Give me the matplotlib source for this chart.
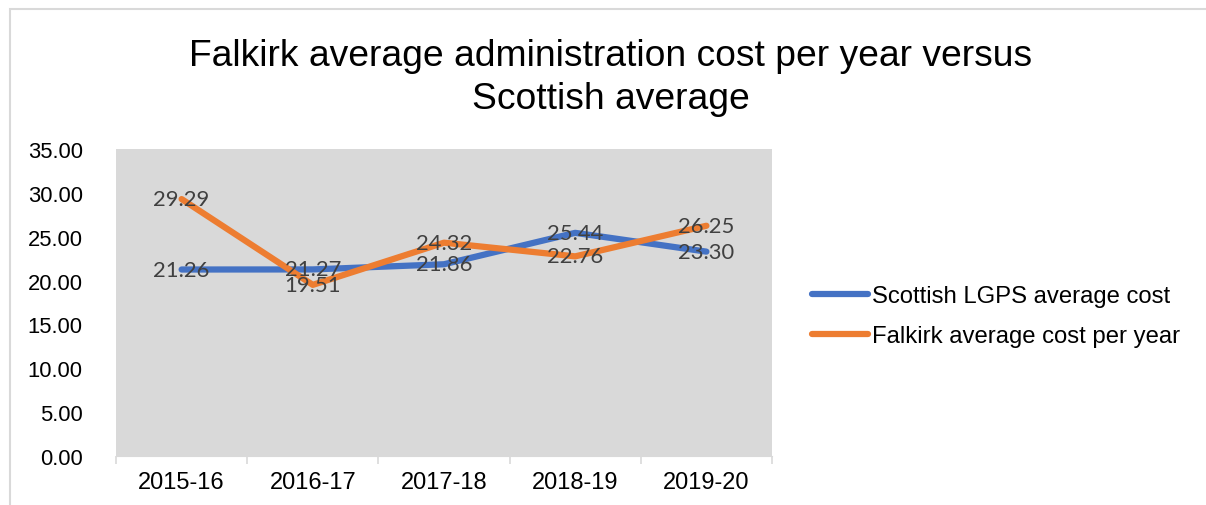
import matplotlib.pyplot as plt
from matplotlib.patches import Rectangle

years = ['2015-16', '2016-17', '2017-18', '2018-19', '2019-20']
scottish = [21.26, 21.27, 21.86, 25.44, 23.30]
falkirk = [29.29, 19.51, 24.32, 22.76, 26.25]
yticks = [0, 5, 10, 15, 20, 25, 30, 35]

W, H = 1206, 506
fig = plt.figure(figsize=(W / 100, H / 100), dpi=100)
plt.rcParams['font.family'] = ['Liberation Sans', 'DejaVu Sans']

# chart border (top and left visible only)
fig.patches.append(Rectangle((10 / W, -0.1), 1.2, 1.1 - 10 / H,
                             transform=fig.transFigure, fill=False,
                             edgecolor='#d9d9d9', linewidth=1.5))

ax = fig.add_axes([116 / W, 49 / H, (772 - 116) / W, (457 - 150) / H])
ax.set_facecolor('#d9d9d9')

x = list(range(len(years)))
ax.plot(x, scottish, color='#4472C4', linewidth=4.5, solid_capstyle='round',
        label='Scottish LGPS average cost')
ax.plot(x, falkirk, color='#ED7D31', linewidth=4.5, solid_capstyle='round',
        label='Falkirk average cost per year')

# data labels centred on the points
for xi, v in zip(x, scottish):
    ax.text(xi, v, f'{v:.2f}', ha='center', va='center', fontsize=15.8,
            family=['Lato', 'DejaVu Sans'], color='#404040')
for xi, v in zip(x, falkirk):
    ax.text(xi, v, f'{v:.2f}', ha='center', va='center', fontsize=15.8,
            family=['Lato', 'DejaVu Sans'], color='#404040')

ax.set_xlim(-0.5, len(years) - 0.5)
ax.set_ylim(0, 35)
ax.set_yticks(yticks)
ax.set_yticklabels([f'{t:.2f}' for t in yticks], fontsize=15.8)
ax.tick_params(axis='y', length=0, pad=24)
ax.set_xticks(x)
ax.set_xticklabels(years, fontsize=17)
ax.set_xticks([i - 0.5 for i in range(len(years) + 1)], minor=True)
ax.tick_params(axis='x', which='major', length=0, pad=11)
ax.tick_params(axis='x', which='minor', length=6, color='#d9d9d9', width=1.2)
for side in ['top', 'right', 'left']:
    ax.spines[side].set_visible(False)
ax.spines['bottom'].set_color('#d9d9d9')

fig.text(611 / W, (H - 78) / H,
         'Falkirk average administration cost per year versus\nScottish average',
         ha='center', va='center', fontsize=26.8, linespacing=1.27)

fig.legend(loc='center left', bbox_to_anchor=(812 / W, (H - 317) / H),
           frameon=False, fontsize=17.2, handlelength=2.34, handletextpad=0.17,
           labelspacing=0.75, borderpad=0, borderaxespad=0)

fig.savefig('out.png', dpi=100)
